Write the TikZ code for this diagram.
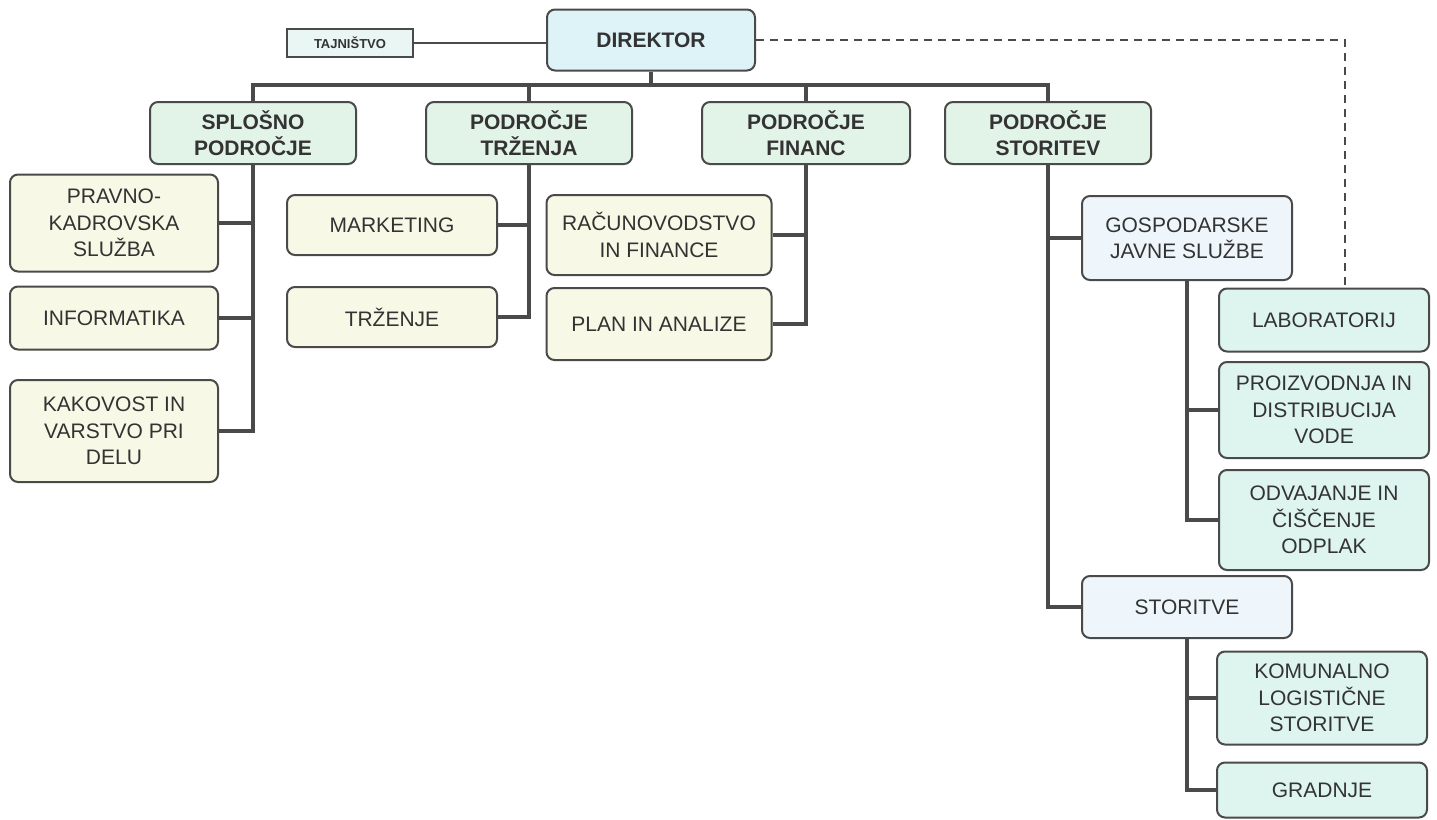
\documentclass[tikz,border=0pt]{standalone}
\usepackage{fontspec}
\setmainfont{Liberation Sans}
\usetikzlibrary{positioning, calc}

\definecolor{dirblue}{HTML}{DDF3F8}
\definecolor{secgreen}{HTML}{E2F3E8}
\definecolor{unityellow}{HTML}{F8F8E6}
\definecolor{subblue}{HTML}{EEF6FB}
\definecolor{unitteal}{HTML}{DDF4EF}
\definecolor{tajfill}{HTML}{EAF6F3}
\definecolor{linegray}{HTML}{4A4A4A}
\definecolor{textgray}{HTML}{333333}

\begin{document}
\begin{tikzpicture}[
    x=0.5pt, y=-0.5pt,
    every node/.style={text=textgray},
    base/.style={rectangle, rounded corners=4pt, draw=linegray, line width=1pt, align=center,
                 font=\fontsize{10.5}{13.2}\selectfont},
    director/.style={base, fill=dirblue, font=\bfseries\fontsize{10.5}{13.2}\selectfont,
                     minimum width=104pt, minimum height=30.5pt},
    office/.style={rectangle, draw=linegray, line width=0.7pt, fill=tajfill,
                   font=\bfseries\fontsize{6.5}{8}\selectfont, minimum width=63pt, minimum height=14pt},
    section/.style={base, fill=secgreen, font=\bfseries\fontsize{10.5}{13.2}\selectfont,
                    minimum width=103pt, minimum height=31pt},
    unit/.style={base, fill=unityellow, minimum width=104pt},
    subsection/.style={base, fill=subblue, minimum width=105pt},
    waterunit/.style={base, fill=unitteal, minimum width=105pt},
    trunk/.style={draw=linegray, line width=2pt},
    link/.style={draw=linegray, line width=0.6pt},
    dotted link/.style={draw=linegray, line width=0.7pt, dash pattern=on 4pt off 3pt}
]
\useasboundingbox (0,0) rectangle (1437,820);

% vodstvo
\node[director] (dir) at (651,40) {DIREKTOR};
\node[office] (taj) at (350,43) {TAJNIŠTVO};

% podrocja
\node[section] (spl) at (253,133) {SPLOŠNO\\PODROČJE};
\node[section] (trz) at (529,133) {PODROČJE\\TRŽENJA};
\node[section, minimum width=104pt] (fin) at (806,133) {PODROČJE\\FINANC};
\node[section] (sto) at (1048,133) {PODROČJE\\STORITEV};

% splosno podrocje
\node[unit, minimum height=48.5pt] (pks) at (114,223) {PRAVNO-\\KADROVSKA\\SLUŽBA};
\node[unit, minimum height=31.5pt] (inf) at (114,318) {INFORMATIKA};
\node[unit, minimum height=51pt] (kak) at (114,431) {KAKOVOST IN\\VARSTVO PRI\\DELU};

% trzenje
\node[unit, minimum width=105pt, minimum height=30pt] (mar) at (392,225) {MARKETING};
\node[unit, minimum width=105pt, minimum height=30pt] (trzn) at (392,317) {TRŽENJE};

% finance
\node[unit, minimum width=112.5pt, minimum height=40pt] (rac) at (659,235) {RAČUNOVODSTVO\\IN FINANCE};
\node[unit, minimum width=112.5pt, minimum height=36pt] (pla) at (659,324) {PLAN IN ANALIZE};

% storitve
\node[subsection, minimum height=42pt] (gjs) at (1187,238) {GOSPODARSKE\\JAVNE SLUŽBE};
\node[waterunit, minimum height=31.5pt] (lab) at (1324,320) {LABORATORIJ};
\node[waterunit, minimum height=48pt] (pro) at (1324,410) {PROIZVODNJA IN\\DISTRIBUCIJA\\VODE};
\node[waterunit, minimum height=50pt] (odv) at (1324,520) {ODVAJANJE IN\\ČIŠČENJE\\ODPLAK};
\node[subsection, minimum height=31pt] (stv) at (1187,607) {STORITVE};
\node[waterunit, minimum height=46.5pt] (kom) at (1322,698) {KOMUNALNO\\LOGISTIČNE\\STORITVE};
\node[waterunit, minimum height=27.5pt] (gra) at (1322,790) {GRADNJE};

% povezave
\coordinate (bus) at (653,85);
\draw[link] (taj.east) -- (taj.east -| dir.west);
\draw[dotted link] (dir.east) -| ($(lab.north)+(21,0)$);
\draw[trunk] (dir.south) -- (dir.south |- bus);
\draw[trunk] (spl.north) -- (spl.north |- bus) -- (sto.north |- bus) -- (sto.north);
\draw[trunk] (trz.north) -- (trz.north |- bus);
\draw[trunk] (fin.north) -- (fin.north |- bus);

\draw[trunk] (spl.south) |- (kak.east);
\draw[trunk] (pks.east) -- (pks.east -| spl.south);
\draw[trunk] (inf.east) -- (inf.east -| spl.south);

\draw[trunk] (trz.south) |- (trzn.east);
\draw[trunk] (mar.east) -- (mar.east -| trz.south);

\draw[trunk] (fin.south) |- (pla.east);
\draw[trunk] (rac.east) -- (rac.east -| fin.south);

\draw[trunk] (sto.south) |- (stv.west);
\draw[trunk] (gjs.west) -- (gjs.west -| sto.south);

\draw[trunk] (gjs.south) |- (odv.west);
\draw[trunk] (pro.west) -- (pro.west -| gjs.south);

\draw[trunk] (stv.south) |- (gra.west);
\draw[trunk] (kom.west) -- (kom.west -| stv.south);

\end{tikzpicture}
\end{document}
